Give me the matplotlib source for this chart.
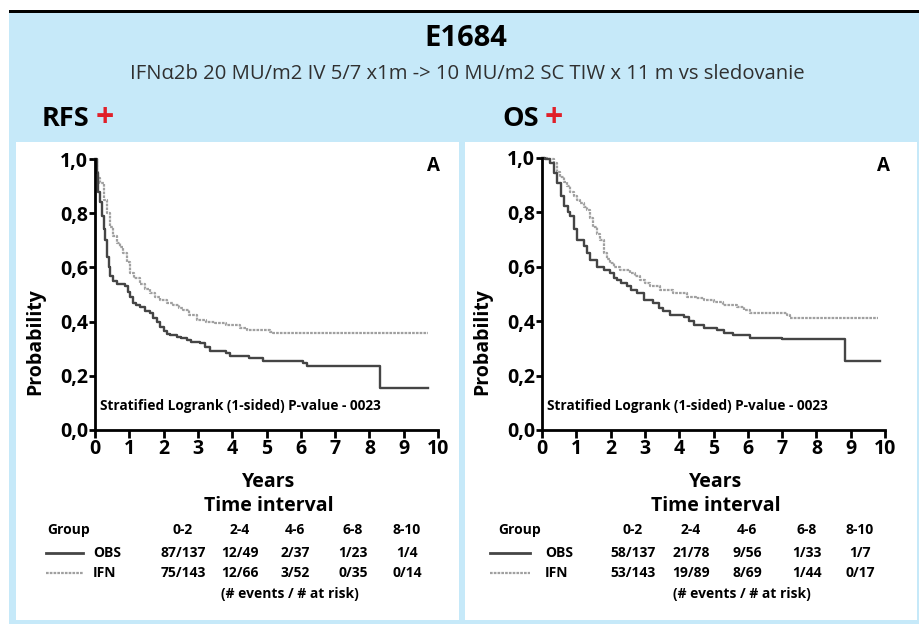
import matplotlib
matplotlib.use("Agg")
import matplotlib.pyplot as plt
from matplotlib.patches import Rectangle
from matplotlib.lines import Line2D

plt.rcParams['font.family'] = ['Open Sans', 'DejaVu Sans']

# ---------------- data ----------------
title = "E1684"
subtitle = "IFNα2b 20 MU/m2 IV 5/7 x1m -> 10 MU/m2 SC TIW x 11 m vs sledovanie"
panel_titles = ["RFS", "OS"]
pvalue_text = "Stratified Logrank (1-sided) P-value - 0023"
groups = ["OBS", "IFN"]
intervals = ["0-2", "2-4", "4-6", "6-8", "8-10"]
x_ticks = list(range(0, 11))
y_ticks = [0.0, 0.2, 0.4, 0.6, 0.8, 1.0]
y_tick_labels = ["0,0", "0,2", "0,4", "0,6", "0,8", "1,0"]

rfs_obs_t = [0, 0.05, 0.1, 0.15, 0.2, 0.25, 0.3, 0.35, 0.4, 0.45, 0.53, 0.63, 0.87, 0.95, 1.02,
             1.1, 1.2, 1.31, 1.45, 1.6, 1.7, 1.8, 1.9, 2.0, 2.1, 2.2, 2.4, 2.5, 2.67, 2.8,
             3.06, 3.2, 3.35, 3.83, 3.93, 4.5, 4.9, 6.07, 6.17, 8.3, 9.71]
rfs_obs_s = [1.0, 0.95, 0.88, 0.84, 0.79, 0.74, 0.70, 0.64, 0.60, 0.57, 0.55, 0.54, 0.53, 0.51, 0.49,
             0.47, 0.46, 0.455, 0.44, 0.43, 0.415, 0.40, 0.38, 0.365, 0.355, 0.35, 0.342, 0.338, 0.332, 0.325,
             0.32, 0.305, 0.29, 0.283, 0.273, 0.266, 0.255, 0.248, 0.238, 0.156, 0.156]

rfs_ifn_t = [0, 0.05, 0.1, 0.15, 0.25, 0.34, 0.45, 0.53, 0.65, 0.73, 0.83, 0.92, 1.02, 1.15, 1.31,
             1.45, 1.6, 1.75, 1.9, 2.1, 2.28, 2.45, 2.57, 2.75, 2.96, 3.25, 3.5, 3.83, 4.22, 4.42,
             5.1, 5.19, 9.71]
rfs_ifn_s = [1.0, 0.96, 0.93, 0.91, 0.85, 0.80, 0.75, 0.715, 0.69, 0.676, 0.652, 0.62, 0.58, 0.56, 0.54,
             0.52, 0.504, 0.49, 0.48, 0.47, 0.461, 0.45, 0.443, 0.425, 0.406, 0.40, 0.395, 0.387, 0.375, 0.369,
             0.363, 0.358, 0.357]

os_obs_t = [0, 0.1, 0.24, 0.35, 0.44, 0.55, 0.63, 0.75, 0.83, 0.92, 1.02, 1.21, 1.3, 1.41, 1.6,
            1.8, 1.99, 2.1, 2.18, 2.3, 2.48, 2.6, 2.77, 2.96, 3.25, 3.4, 3.54, 3.74, 4.13, 4.3,
            4.42, 4.71, 5.1, 5.3, 5.58, 6.07, 7.0, 8.83, 9.85]
os_obs_s = [1.0, 0.995, 0.98, 0.945, 0.908, 0.86, 0.822, 0.80, 0.785, 0.74, 0.70, 0.675, 0.65, 0.626, 0.60,
            0.59, 0.577, 0.56, 0.552, 0.54, 0.528, 0.515, 0.503, 0.479, 0.466, 0.45, 0.436, 0.423, 0.417, 0.40,
            0.387, 0.374, 0.368, 0.358, 0.35, 0.337, 0.335, 0.252, 0.252]

os_ifn_t = [0, 0.15, 0.34, 0.45, 0.53, 0.63, 0.73, 0.83, 0.92, 1.02, 1.12, 1.21, 1.31, 1.4, 1.5,
            1.6, 1.7, 1.8, 1.9, 1.99, 2.1, 2.28, 2.57, 2.7, 2.86, 3.0, 3.16, 3.45, 3.83, 4.22,
            4.5, 4.71, 5.0, 5.29, 5.68, 5.9, 6.07, 7.14, 7.23, 9.8]
os_ifn_s = [1.0, 0.995, 0.98, 0.95, 0.93, 0.91, 0.896, 0.875, 0.86, 0.845, 0.834, 0.82, 0.81, 0.78, 0.748,
            0.72, 0.70, 0.65, 0.63, 0.613, 0.60, 0.589, 0.577, 0.565, 0.552, 0.54, 0.528, 0.515, 0.503, 0.49,
            0.485, 0.479, 0.47, 0.46, 0.454, 0.44, 0.43, 0.423, 0.411, 0.411]

rfs_table = [["87/137", "12/49", "2/37", "1/23", "1/4"],
             ["75/143", "12/66", "3/52", "0/35", "0/14"]]
os_table = [["58/137", "21/78", "9/56", "1/33", "1/7"],
            ["53/143", "19/89", "8/69", "1/44", "0/17"]]

# ---------------- figure ----------------
W, H = 920, 624
fig = plt.figure(figsize=(W / 100, H / 100), dpi=100)
fig.patch.set_facecolor("white")

BLUE = "#c6e9f9"


def fx(x):
    return x / W


def fy(y):
    return 1 - y / H


def rect(x0, y0, x1, y1, color):
    fig.add_artist(Rectangle((fx(x0), fy(y1)), fx(x1) - fx(x0), fy(y0) - fy(y1),
                             transform=fig.transFigure, facecolor=color, edgecolor="none", zorder=0))


rect(9, 10, 920, 13, "black")
rect(9, 13, 920, 624, BLUE)
rect(16, 142, 459, 620, "white")
rect(465, 142, 917, 620, "white")

fig.text(fx(466), fy(39), title, ha="center", va="center", fontsize=21, fontweight="bold")
fig.text(fx(467), fy(74), subtitle, ha="center", va="center", fontsize=14.6, fontweight="normal",
         color="#303030")

OBS_COLOR = "#454545"
IFN_COLOR = "#a0a0a0"
IFN_STYLE = (0, (1.2, 0.5))

panels = [
    dict(name=panel_titles[0], title_x=42, ax_x0=95, ax_x1=438, ax_y0=159, ax_y1=430,
         obs=(rfs_obs_t, rfs_obs_s), ifn=(rfs_ifn_t, rfs_ifn_s), table=rfs_table,
         ylab_x=35, a_x=433, p_x=102,
         tbl_group_x=47, line_x=(46, 83), lab_x=93,
         col_x=[183, 240, 295, 353, 407]),
    dict(name=panel_titles[1], title_x=502, ax_x0=542, ax_x1=885, ax_y0=158, ax_y1=430,
         obs=(os_obs_t, os_obs_s), ifn=(os_ifn_t, os_ifn_s), table=os_table,
         ylab_x=482, a_x=883, p_x=549,
         tbl_group_x=498, line_x=(490, 530), lab_x=545,
         col_x=[633, 691, 747, 807, 860]),
]

for p in panels:
    # panel heading
    t = fig.text(fx(p["title_x"]), fy(126), p["name"], ha="left", va="baseline",
                 fontsize=19.5, fontweight="bold")
    fig.canvas.draw()
    bb = t.get_window_extent()
    fig.text((bb.x1 + 6) / W, fy(127), "+", ha="left", va="baseline", fontsize=23,
             fontweight="bold", color="#e0202a")

    ax = fig.add_axes([fx(p["ax_x0"]), fy(p["ax_y1"]), fx(p["ax_x1"]) - fx(p["ax_x0"]),
                       fy(p["ax_y0"]) - fy(p["ax_y1"])])
    ax.set_facecolor("none")
    ax.step(p["ifn"][0], p["ifn"][1], where="post", color=IFN_COLOR, lw=1.6,
            linestyle=IFN_STYLE, clip_on=False)
    ax.step(p["obs"][0], p["obs"][1], where="post", color=OBS_COLOR, lw=1.7, clip_on=False)
    ax.set_xlim(0, 10)
    ax.set_ylim(0, 1)
    for s in ["top", "right"]:
        ax.spines[s].set_visible(False)
    for s in ["left", "bottom"]:
        ax.spines[s].set_linewidth(2.0)
        ax.spines[s].set_color("black")
    ax.set_xticks(x_ticks)
    ax.set_xticklabels([str(v) for v in x_ticks], fontsize=14, fontweight="bold")
    ax.set_yticks(y_ticks)
    ax.set_yticklabels(y_tick_labels, fontsize=14, fontweight="bold")
    ax.tick_params(axis="x", direction="out", length=5.5, width=2.0, pad=1)
    ax.tick_params(axis="y", direction="out", length=4, width=2.0, pad=1)

    ax.text(0.016, 0.09, pvalue_text, transform=ax.transAxes, fontsize=9.8,
            fontweight="bold", ha="left", va="center")
    fig.text(fx(p["a_x"]), fy(166), "A", ha="center", va="center", fontsize=13.5, fontweight="bold")

    fig.text(fx(p["ylab_x"]), fy(342), "Probability", rotation=90, ha="center", va="center",
             fontsize=14, fontweight="bold")
    cx = (p["ax_x0"] + p["ax_x1"]) / 2 + 2
    fig.text(fx(cx), fy(482), "Years", ha="center", va="center", fontsize=14, fontweight="bold")
    fig.text(fx(cx), fy(506), "Time interval", ha="center", va="center", fontsize=14,
             fontweight="bold")

    # at-risk table
    fig.text(fx(p["tbl_group_x"]), fy(530), "Group", ha="left", va="center", fontsize=10,
             fontweight="bold")
    for j, iv in enumerate(intervals):
        fig.text(fx(p["col_x"][j]), fy(530), iv, ha="center", va="center", fontsize=10,
                 fontweight="bold")
    row_y = [553, 573]
    styles = [dict(color=OBS_COLOR, lw=2.0, linestyle="-"),
              dict(color=IFN_COLOR, lw=1.6, linestyle=IFN_STYLE)]
    for i, g in enumerate(groups):
        fig.add_artist(Line2D([fx(p["line_x"][0]), fx(p["line_x"][1])], [fy(row_y[i])] * 2,
                              transform=fig.transFigure, **styles[i]))
        fig.text(fx(p["lab_x"]), fy(row_y[i]), g, ha="left", va="center", fontsize=10,
                 fontweight="bold")
        for j, v in enumerate(p["table"][i]):
            fig.text(fx(p["col_x"][j]), fy(row_y[i]), v, ha="center", va="center",
                     fontsize=10, fontweight="bold")
    fig.text(fx(p["col_x"][2] - 5), fy(594), "(# events / # at risk)", ha="center", va="center",
             fontsize=10, fontweight="bold")

fig.savefig("out.png", dpi=100)
